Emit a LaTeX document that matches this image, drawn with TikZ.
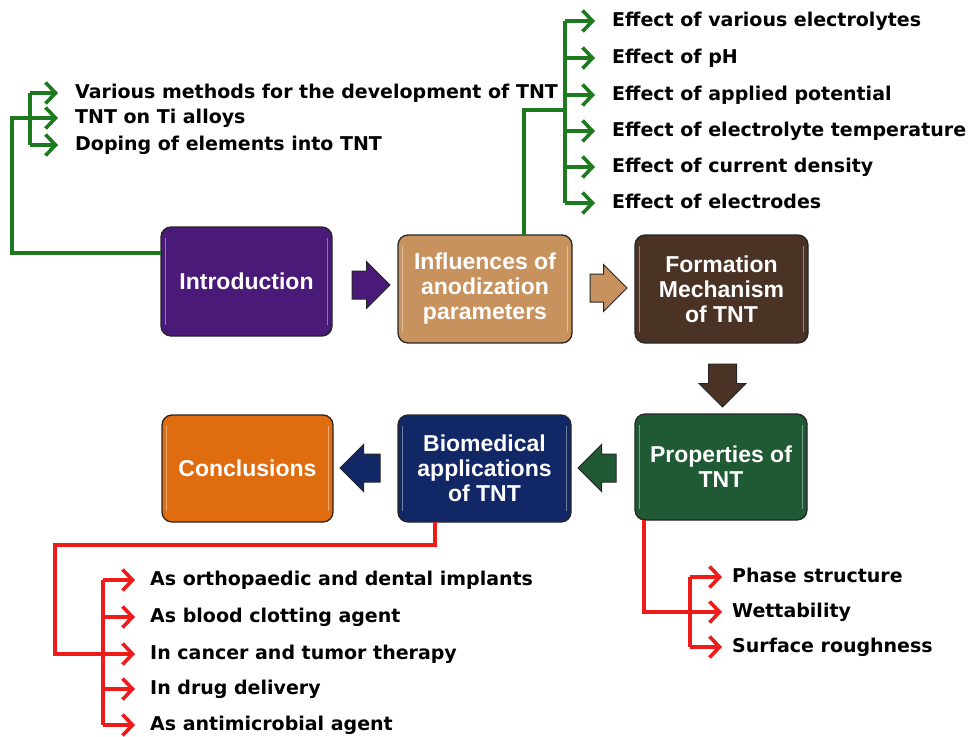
\documentclass[tikz,border=0pt]{standalone}
\usepackage{fontspec}
\setmainfont{DejaVu Sans}
\newfontfamily\boxfont{Liberation Sans}
\usetikzlibrary{shapes.arrows,arrows.meta}
\definecolor{introC}{HTML}{4A1A78}
\definecolor{inflC}{HTML}{C8925E}
\definecolor{formC}{HTML}{4A3325}
\definecolor{conclC}{HTML}{E06C10}
\definecolor{bioC}{HTML}{122766}
\definecolor{propC}{HTML}{1F5A34}
\definecolor{gC}{HTML}{1E7A1E}
\definecolor{rC}{HTML}{EE1B1B}
\tikzset{
  box/.style={draw=black!85, line width=1.3pt, rounded corners=10pt, text=white,
    font=\boxfont\bfseries\fontsize{23}{25}\selectfont, align=center, inner sep=0pt},
  barrow/.style={shape=single arrow, draw=black!85, line width=1pt, inner sep=0pt,
    single arrow head extend=9.5pt},
  item/.style={anchor=west, inner sep=0pt, font=\bfseries\fontsize{19}{22}\selectfont,
    text height=14pt, text depth=4pt},
  gline/.style={draw=gC, line width=3.2pt},
  rline/.style={draw=rC, line width=3.2pt},
  tipstyle/.style={-{Straight Barb[length=10pt,width=21pt,line width=3.6pt]}},
  garr/.style={draw=gC, line width=3.6pt, tipstyle},
  rarr/.style={draw=rC, line width=3.6pt, tipstyle},
  shine/.style={draw=white, opacity=0.4, line width=1.5pt}
}
\newcommand{\boxshine}[1]{%
  \draw[shine] ([xshift=5pt,yshift=-12pt]#1.north west) -- ([xshift=5pt,yshift=12pt]#1.south west);
  \draw[shine] ([xshift=-5pt,yshift=-12pt]#1.north east) -- ([xshift=-5pt,yshift=12pt]#1.south east);}
\begin{document}
\begin{tikzpicture}[x=1pt,y=-1pt]
\useasboundingbox (0,0) rectangle (973,736);
% boxes
\node[box, fill=introC, minimum width=171pt, minimum height=109pt] (intro) at (246.5,281.5) {Introduction};
\node[box, fill=inflC, minimum width=174pt, minimum height=108pt] (infl) at (485,289) {Influences of\\anodization\\parameters};
\node[box, fill=formC, minimum width=173pt, minimum height=108pt] (form) at (721.5,289) {Formation\\Mechanism\\of TNT};
\node[box, fill=conclC, minimum width=171pt, minimum height=107pt] (concl) at (247.5,468.5) {Conclusions};
\node[box, fill=bioC, minimum width=173pt, minimum height=107pt] (bio) at (484.5,468.5) {Biomedical\\applications\\of TNT};
\node[box, fill=propC, minimum width=172pt, minimum height=106pt] (prop) at (721,467) {Properties of\\TNT};
\foreach \b in {intro,infl,form,concl,bio,prop} {\boxshine{\b}}
% block arrows
\node[barrow, inner ysep=13.5pt, fill=introC, minimum height=38pt] (a1) at (364,285) {};
\node[barrow, inner ysep=13.5pt, fill=inflC, minimum height=37pt] (a2) at (601.5,288) {};
\node[barrow, inner xsep=13.5pt, fill=formC, minimum height=43pt, shape border rotate=270] (a3) at (722.5,378.5) {};
\node[barrow, inner ysep=13.5pt, fill=propC, minimum height=38pt, shape border rotate=180] (a4) at (604,468) {};
\node[barrow, inner ysep=13.5pt, fill=bioC, minimum height=40pt, shape border rotate=180] (a5) at (367,468) {};
% top-left list
\node[item] (l1) at (75,93) {Various methods for the development of TNT};
\node[item] (l2) at (75,118) {TNT on Ti alloys};
\node[item] (l3) at (75,145) {Doping of elements into TNT};
\coordinate (lb) at (30,118);
\coordinate (ltrunk) at (12,118);
\coordinate (introL) at (161,253);
\draw[gline] (introL) -| (ltrunk) -- (lb);
\draw[gline] (lb |- l1) -- (lb |- l3);
\foreach \n in {l1,l2,l3} \draw[garr, shorten >=17pt] (lb |- \n) -- (\n.west);
% top-right list
\node[item] (e1) at (612,21) {Effect of various electrolytes};
\node[item] (e2) at (612,58) {Effect of pH};
\node[item] (e3) at (612,95) {Effect of applied potential};
\node[item] (e4) at (612,131) {Effect of electrolyte temperature};
\node[item] (e5) at (612,167) {Effect of current density};
\node[item] (e6) at (612,203) {Effect of electrodes};
\coordinate (rb) at (565,110);
\coordinate (inflT) at (524,235);
\draw[gline] (inflT) |- (rb);
\draw[gline] (rb |- e1) -- (rb |- e6);
\foreach \n in {e1,e2,e3,e4,e5,e6} \draw[garr, shorten >=17pt] (rb |- \n) -- (\n.west);
% bottom-left list
\node[item] (b1) at (150,580) {As orthopaedic and dental implants};
\node[item] (b2) at (150,617) {As blood clotting agent};
\node[item] (b3) at (150,654) {In cancer and tumor therapy};
\node[item] (b4) at (150,689) {In drug delivery};
\node[item] (b5) at (150,725) {As antimicrobial agent};
\coordinate (bioB) at (435,522);
\coordinate (btrunk) at (55,545);
\coordinate (bb) at (103,654);
\draw[rline] (bioB) |- (btrunk) |- (bb);
\draw[rline] (bb |- b1) -- (bb |- b5);
\foreach \n in {b1,b2,b3,b4,b5} \draw[rarr, shorten >=15pt] (bb |- \n) -- (\n.west);
% bottom-right list
\node[item] (p1) at (732,577) {Phase structure};
\node[item] (p2) at (732,612) {Wettability};
\node[item] (p3) at (732,647) {Surface roughness};
\coordinate (propB) at (644,520);
\coordinate (pb) at (690,612);
\draw[rline] (propB) |- (pb);
\draw[rline] (pb |- p1) -- (pb |- p3);
\foreach \n in {p1,p2,p3} \draw[rarr, shorten >=10pt] (pb |- \n) -- (\n.west);
\end{tikzpicture}
\end{document}
